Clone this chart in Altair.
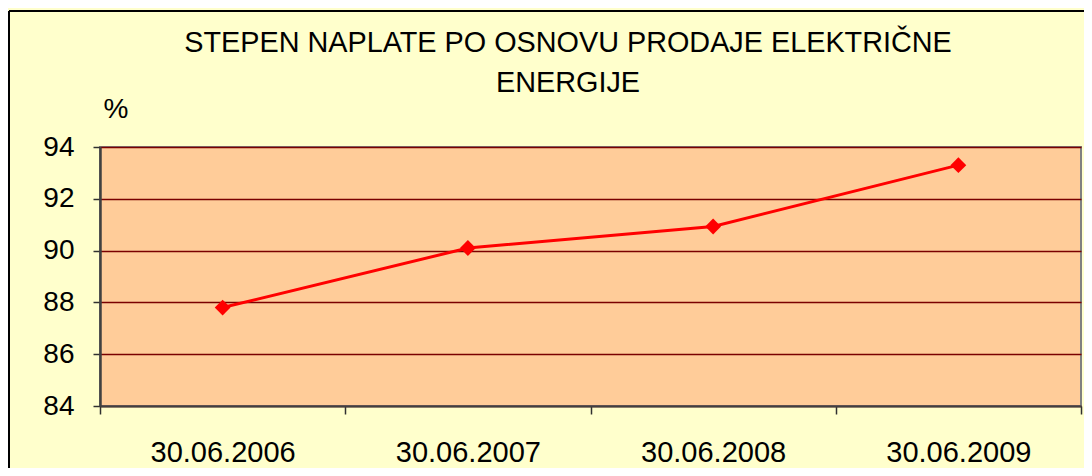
import altair as alt
import pandas as pd

categories = ["30.06.2006", "30.06.2007", "30.06.2008", "30.06.2009"]
values = [87.8, 90.1, 90.93, 93.3]
y_ticks = [84, 86, 88, 90, 92, 94]
title_lines = ["STEPEN NAPLATE PO OSNOVU PRODAJE ELEKTRIČNE", "ENERGIJE"]
unit_label = "%"

df = pd.DataFrame({"date": categories, "value": values})

FONT = "Liberation Sans"
W, H = 981, 259

x_enc = alt.X(
    "date:N",
    sort=categories,
    title=None,
    scale=alt.Scale(paddingInner=0, paddingOuter=0),
    axis=alt.Axis(
        labelAngle=0, labelFontSize=29, labelFont=FONT, labelColor="black",
        labelPadding=24, tickBand="extent", tickSize=8, tickColor="#303030",
        tickWidth=1.5, domainColor="#404040", domainWidth=2, grid=False,
    ),
)
y_enc = alt.Y(
    "value:Q",
    title=None,
    scale=alt.Scale(domain=[84, 94], nice=False, zero=False),
    axis=alt.Axis(
        values=y_ticks, labelFontSize=28, labelFont=FONT, labelColor="black",
        labelPadding=19, tickSize=7, tickColor="#303030", tickWidth=1.5,
        domainColor="#404040", domainWidth=2.5, grid=True,
        gridColor="#7A0000", gridWidth=1.6, gridOpacity=1,
    ),
)

base = alt.Chart(df)
line = base.mark_line(color="#FF0000", strokeWidth=3).encode(x=x_enc, y=y_enc)
points = base.mark_point(
    shape="diamond", filled=True, color="#FF0000", size=250, opacity=1
).encode(x=x_enc, y=y_enc)

title_df = pd.DataFrame({"t": title_lines, "yy": [-95, -55]})
title_text = alt.Chart(title_df).mark_text(
    font=FONT, fontSize=28.8, color="black", align="center", baseline="alphabetic"
).encode(text="t:N", x=alt.value(468), y=alt.Y("yy:Q", scale=None))

unit_text = alt.Chart(pd.DataFrame({"u": [unit_label]})).mark_text(
    font=FONT, fontSize=28, color="black", align="center", baseline="alphabetic"
).encode(text="u:N", x=alt.value(16), y=alt.value(-29))

border_left = alt.Chart(pd.DataFrame({"a": [0]})).mark_rule(
    color="black", strokeWidth=2
).encode(x=alt.value(-91), y=alt.value(-136), y2=alt.value(400))
border_top = alt.Chart(pd.DataFrame({"a": [0]})).mark_rule(
    color="black", strokeWidth=2
).encode(x=alt.value(-91), x2=alt.value(1100), y=alt.value(-136))

chart = alt.layer(
    line, points, title_text, unit_text, border_left, border_top
).properties(
    width=W, height=H,
    background="#FFFFCC",
    padding={"left": 92, "top": 139, "right": 3, "bottom": 62},
    autosize=alt.AutoSizeParams(type="none"),
).configure_view(
    fill="#FFCC99", stroke="#808080", strokeWidth=2
)

chart.save("out.html", embed_options={"renderer": "svg", "actions": False})
